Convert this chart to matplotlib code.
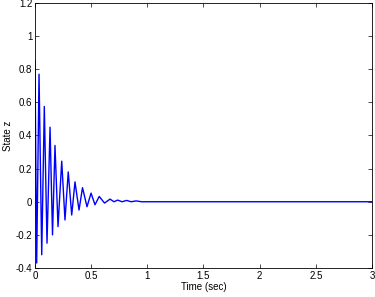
import matplotlib
matplotlib.use("Agg")
import matplotlib.pyplot as plt

# Extrema of the damped oscillation (time in s, state z)
t_ext = [0.0, 0.015, 0.036, 0.060, 0.083, 0.107, 0.134, 0.156, 0.178, 0.205,
         0.238, 0.267, 0.296, 0.327, 0.356, 0.392, 0.423, 0.463, 0.499, 0.534,
         0.572, 0.619, 0.668, 0.703, 0.736, 0.775, 0.816, 0.855, 0.90, 0.95,
         1.0, 3.0]
z_ext = [0.85, -0.37, 0.77, -0.32, 0.575, -0.25, 0.45, -0.20, 0.34, -0.15,
         0.245, -0.11, 0.18, -0.08, 0.12, -0.05, 0.085, -0.03, 0.052, -0.018,
         0.032, -0.008, 0.016, 0.0, 0.010, 0.0, 0.008, 0.0, 0.005, 0.0,
         0.0, 0.0]

xticks = [0, 0.5, 1, 1.5, 2, 2.5, 3]
xticklabels = ["0", "0.5", "1", "1.5", "2", "2.5", "3"]
yticks = [-0.4, -0.2, 0, 0.2, 0.4, 0.6, 0.8, 1, 1.2]
yticklabels = ["-0.4", "-0.2", "0", "0.2", "0.4", "0.6", "0.8", "1", "1.2"]

plt.rcParams['font.family'] = ['Liberation Sans', 'DejaVu Sans']

fig = plt.figure(figsize=(3.75, 2.97), dpi=100)
ax = fig.add_axes([0.0933, 0.0976, 0.8987, 0.8924])
ax.plot(t_ext, z_ext, color='#0000ff', linewidth=1.0)
ax.set_xlim(0, 3)
ax.set_ylim(-0.4, 1.2)
ax.set_xticks(xticks)
ax.set_xticklabels(xticklabels)
ax.set_yticks(yticks)
ax.set_yticklabels(yticklabels)
ax.tick_params(direction='in', top=True, right=True, labelsize=7, length=3,
               width=0.5, pad=2)
for s in ax.spines.values():
    s.set_linewidth(0.6)
ax.set_xlabel("Time (sec)", fontsize=7, labelpad=1)
ax.set_ylabel("State z", fontsize=7, labelpad=2)
fig.savefig("out.png", dpi=100)
